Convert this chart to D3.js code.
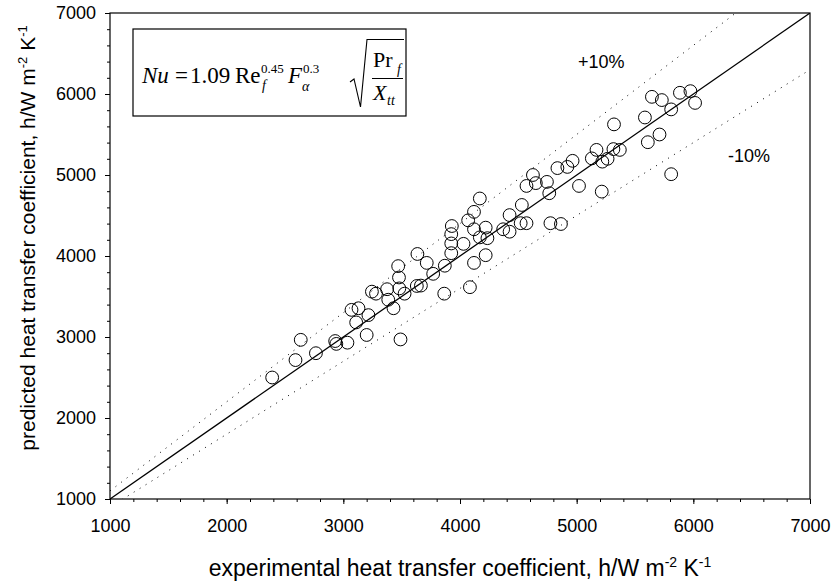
<!DOCTYPE html>
<html>
<head>
<meta charset="utf-8">
<script src="https://cdn.jsdelivr.net/npm/d3@7"></script>
<style>
  html, body { margin: 0; padding: 0; background: #fff; }
  svg { display: block; }
  text { font-family: "Liberation Sans", Arial, Helvetica, sans-serif; fill: #000; }
</style>
</head>
<body>
<div id="chart"></div>
<script>
// значения
const axisTicks = [1000, 2000, 3000, 4000, 5000, 6000, 7000];
const diagLine = [1000, 7000];
const bandFactors = [1.1, 0.9];
const bandLabels = ["+10%", "-10%"];

const expH = [
  2390, 2590, 2635, 2765, 2930, 2940, 3035, 3200, 3490, 3110,
  3070, 3130, 3215, 3430, 3385, 3375, 3245, 3280, 3470, 3477,
  3480, 3525, 3635, 3715, 3630, 3665, 3770, 3865, 3870, 3930,
  3925, 3925, 3925, 4030, 4120, 4070, 4220, 4170, 4120, 4085,
  4220, 4235, 4170, 4120, 4370, 4425, 4425, 4530, 4520, 4570,
  4570, 4625, 4650, 4745, 4765, 4775, 4865, 4835, 4920, 4965,
  5020, 5130, 5170, 5220, 5265, 5215, 5315, 5370, 5320, 5585,
  5610, 5710, 5645, 5730, 5810, 5810, 5885, 5975, 6015
];
const predH = [
  2500, 2715, 2965, 2800, 2950, 2915, 2930, 3025, 2970, 3180,
  3335, 3355, 3270, 3355, 3460, 3590, 3560, 3535, 3875, 3735,
  3600, 3535, 4025, 3915, 3630, 3635, 3780, 3535, 3880, 4370,
  4270, 4155, 4035, 4150, 4330, 4440, 4350, 4230, 3915, 3615,
  4010, 4220, 4710, 4545, 4330, 4505, 4300, 4630, 4405, 4405,
  4865, 5000, 4900, 4915, 4775, 4405, 4395, 5085, 5100, 5175,
  4865, 5205, 5310, 5165, 5200, 4795, 5320, 5310, 5625, 5710,
  5405, 5500, 5965, 5925, 5810, 5010, 6015, 6035, 5890
];

const width = 833, height = 585;
const margin = { left: 110, right: 23, top: 13, bottom: 86 };

const svg = d3.select("#chart").append("svg")
  .attr("width", width)
  .attr("height", height);

const x = d3.scaleLinear().domain([1000, 7000]).range([margin.left, width - margin.right]);
const y = d3.scaleLinear().domain([1000, 7000]).range([height - margin.bottom, margin.top]);

svg.append("defs").append("clipPath").attr("id", "plot-clip")
  .append("rect")
  .attr("x", x(1000)).attr("y", y(7000))
  .attr("width", x(7000) - x(1000)).attr("height", y(1000) - y(7000));

// малые деления через 200
const minorTicks = d3.range(1000, 7001, 200);

const xMinor = svg.append("g")
  .attr("transform", `translate(0,${y(1000)})`)
  .call(d3.axisBottom(x).tickValues(minorTicks).tickSize(3).tickFormat(""));
const yMinor = svg.append("g")
  .attr("transform", `translate(${x(1000)},0)`)
  .call(d3.axisLeft(y).tickValues(minorTicks).tickSize(3).tickFormat(""));

const xAxis = svg.append("g")
  .attr("transform", `translate(0,${y(1000)})`)
  .call(d3.axisBottom(x).tickValues(axisTicks).tickSize(5).tickPadding(15).tickFormat(d3.format("d")));
const yAxis = svg.append("g")
  .attr("transform", `translate(${x(1000)},0)`)
  .call(d3.axisLeft(y).tickValues(axisTicks).tickSize(5).tickPadding(9).tickFormat(d3.format("d")));

[xMinor, yMinor, xAxis, yAxis].forEach(g => {
  g.select(".domain").remove();
  g.selectAll(".tick line").attr("stroke", "#000");
});
[xAxis, yAxis].forEach(g => {
  g.selectAll("text").attr("font-size", 18).attr("fill", "#000")
    .style("font-family", '"Liberation Sans", Arial, sans-serif');
});

// рамка
svg.append("rect")
  .attr("x", x(1000)).attr("y", y(7000))
  .attr("width", x(7000) - x(1000)).attr("height", y(1000) - y(7000))
  .attr("fill", "none").attr("stroke", "#000").attr("stroke-width", 1.2);

const plot = svg.append("g").attr("clip-path", "url(#plot-clip)");

const lineGen = d3.line().x(d => x(d[0])).y(d => y(d[1]));

plot.append("path")
  .datum(diagLine.map(v => [v, v]))
  .attr("d", lineGen)
  .attr("fill", "none").attr("stroke", "#000").attr("stroke-width", 1.3);

bandFactors.forEach(f => {
  plot.append("path")
    .datum(diagLine.map(v => [v, v * f]))
    .attr("d", lineGen)
    .attr("fill", "none").attr("stroke", "#000").attr("stroke-width", 1)
    .attr("stroke-dasharray", "1,6");
});

plot.selectAll("circle.pt")
  .data(expH.map((v, i) => [v, predH[i]]))
  .join("circle")
  .attr("class", "pt")
  .attr("cx", d => x(d[0]))
  .attr("cy", d => y(d[1]))
  .attr("r", 6.4)
  .attr("fill", "none")
  .attr("stroke", "#000")
  .attr("stroke-width", 1);

// подписи +10% / -10%
svg.append("text").attr("x", 578).attr("y", 68).attr("font-size", 18).text(bandLabels[0]);
svg.append("text").attr("x", 728).attr("y", 162).attr("font-size", 18).text(bandLabels[1]);

// подписи осей
const xTitle = svg.append("text")
  .attr("x", 460).attr("y", 576)
  .attr("text-anchor", "middle")
  .attr("font-size", 23);
xTitle.append("tspan").text("experimental heat transfer coefficient, h/W m");
xTitle.append("tspan").attr("font-size", 14).attr("dy", -9).text("-2");
xTitle.append("tspan").attr("dy", 9).text(" K");
xTitle.append("tspan").attr("font-size", 14).attr("dy", -9).text("-1");

const yTitle = svg.append("text")
  .attr("transform", "translate(35,238) rotate(-90)")
  .attr("text-anchor", "middle")
  .attr("font-size", 21);
yTitle.append("tspan").text("predicted heat transfer coefficient, h/W m");
yTitle.append("tspan").attr("font-size", 13).attr("dy", -8).text("-2");
yTitle.append("tspan").attr("dy", 8).text(" K");
yTitle.append("tspan").attr("font-size", 13).attr("dy", -8).text("-1");

// формула в рамке
const box = svg.append("g");
box.append("rect")
  .attr("x", 133).attr("y", 29).attr("width", 273).attr("height", 87)
  .attr("fill", "#fff").attr("stroke", "#000").attr("stroke-width", 1.2);

function ft(tx, ty, size, txt, italic) {
  box.append("text")
    .attr("x", tx).attr("y", ty)
    .attr("font-size", size)
    .attr("font-style", italic ? "italic" : "normal")
    .style("font-family", '"Liberation Serif", "Times New Roman", serif')
    .text(txt);
}
ft(142, 83, 23, "Nu", true);
ft(175, 83, 23, "=", false);
ft(190, 83, 23, "1.09", false);
ft(235, 83, 23, "Re", false);
ft(261, 73, 13, "0.45", false);
ft(262, 90, 14, "f", true);
ft(288, 83, 23, "F", true);
ft(303, 73, 13, "0.3", false);
ft(302, 91, 14, "\u03b1", true);
ft(373, 67, 22, "Pr", false);
ft(397, 74, 14, "f", true);
ft(373, 100, 22, "X", true);
ft(387, 105, 14, "tt", true);

box.append("line")
  .attr("x1", 372).attr("x2", 403)
  .attr("y1", 78.5).attr("y2", 78.5)
  .attr("stroke", "#000").attr("stroke-width", 1);

box.append("path")
  .attr("d", "M350,82 L354,79 L360.5,107 L367,39.5 L404,39.5")
  .attr("fill", "none").attr("stroke", "#000").attr("stroke-width", 1.1);
</script>
</body>
</html>
